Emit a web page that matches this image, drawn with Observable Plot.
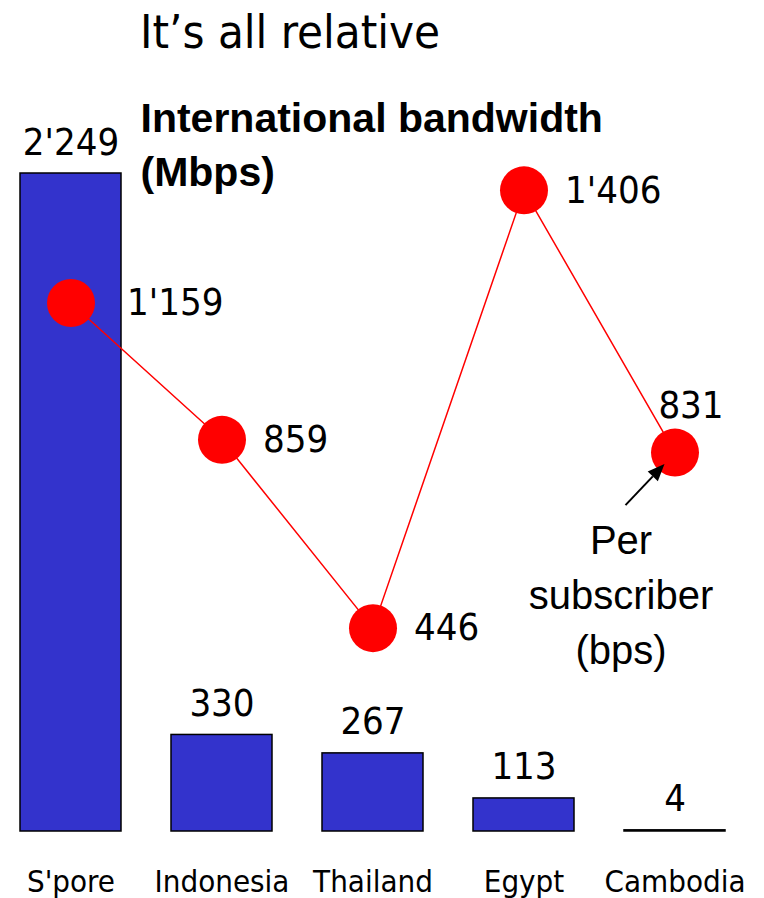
<!DOCTYPE html>
<html><head><meta charset="utf-8">
<script src="https://cdn.jsdelivr.net/npm/d3@7"></script>
<script src="https://cdn.jsdelivr.net/npm/@observablehq/plot@0.6"></script>
<style>
body{margin:0;background:#fff;}
#title{height:62px;line-height:64px;font-family:"DejaVu Sans Condensed","DejaVu Sans";font-stretch:condensed;font-size:47px;padding-left:140px;color:#000;white-space:nowrap;}
#chart svg{display:block;}
</style></head><body>
<div id="title">It’s all relative</div>
<div id="chart"></div>
<script>
const countries = ["S'pore", "Indonesia", "Thailand", "Egypt", "Cambodia"];
const bandwidth = [2249, 330, 267, 113, 4];          // International bandwidth (Mbps)
const perSubscriber = [1159, 859, 446, 1406, 831];   // Per subscriber (bps)
const bandwidthTitle = "International bandwidth\n(Mbps)";
const perSubTitle = "Per\nsubscriber\n(bps)";

const fmt = d3.formatLocale({thousands: "'", grouping: [3], decimal: ".", currency: ["", ""]}).format(",");
// secondary axis for the per-subscriber series, mapped into the bar axis units
const y2 = d3.scaleLinear().domain([0, 1443]).range([0, 2249]);

const data = countries.map((c, i) => ({country: c, bw: bandwidth[i], ps: perSubscriber[i], ps2: y2(perSubscriber[i])}));

const numFont = "DejaVu Sans Condensed, DejaVu Sans";
const plot = Plot.plot({
  width: 764, height: 836,
  marginLeft: 18, marginRight: 37, marginTop: 111, marginBottom: 67,
  style: {fontFamily: numFont, background: "white", color: "black", overflow: "visible"},
  x: {domain: countries, paddingInner: 0.33, paddingOuter: 0, label: null},
  y: {domain: [0, 2249], axis: null},
  marks: [
    Plot.axisX({tickSize: 0, tickPadding: 38, fontSize: 31, fontFamily: numFont, label: null}),
    Plot.barY(data, {x: "country", y: "bw", fill: "#3333cc", stroke: "black", strokeWidth: 1.5}),
    Plot.text(data, {x: "country", y: "bw", text: d => fmt(d.bw), dy: -19, lineAnchor: "bottom", fontSize: 38, fill: "black"}),
    Plot.line(data, {x: "country", y: "ps2", stroke: "red", strokeWidth: 1.5}),
    Plot.dot(data, {x: "country", y: "ps2", r: 24, fill: "red"}),
    Plot.text(data, {filter: d => d.country === "S'pore", x: "country", y: "ps2", text: d => fmt(d.ps), textAnchor: "start", lineAnchor: "middle", dx: 56, fontSize: 38, fill: "black"}),
    Plot.text(data, {filter: d => d.country !== "S'pore" && d.country !== "Cambodia", x: "country", y: "ps2", text: d => fmt(d.ps), textAnchor: "start", lineAnchor: "middle", dx: 41, fontSize: 38, fill: "black"}),
    Plot.text(data, {filter: d => d.country === "Cambodia", x: "country", y: "ps2", text: d => fmt(d.ps), textAnchor: "middle", lineAnchor: "middle", dx: 16, dy: -47, fontSize: 38, fill: "black"}),
    Plot.text([bandwidthTitle], {frameAnchor: "top-left", text: d => d, dx: 122, dy: -81, lineAnchor: "top", textAnchor: "start", fontSize: 41, fontWeight: "bold", fontFamily: "Liberation Sans", lineHeight: 1.34, fill: "black"}),
    Plot.text(data, {filter: d => d.country === "Cambodia", x: "country", y: "ps2", text: () => perSubTitle, textAnchor: "middle", lineAnchor: "top", dx: -54, dy: 62, fontSize: 40, fontFamily: "Liberation Sans", lineHeight: 1.375, fill: "black"})
  ]
});

// arrow pointing at the Cambodia per-subscriber dot
(function () {
  const sx = plot.scale("x"), sy = plot.scale("y");
  const d = data.find(d => d.country === "Cambodia");
  const cx = sx.apply(d.country) + sx.bandwidth / 2;
  const cy = sy.apply(d.ps2);
  const tail = [cx - 49, cy + 53], tip = [cx - 10, cy + 12];
  const vx = tip[0] - tail[0], vy = tip[1] - tail[1], L = Math.hypot(vx, vy);
  const ux = vx / L, uy = vy / L, px = -uy, py = ux;
  const hl = 17, hw = 7;
  const bx = tip[0] - hl * ux, by = tip[1] - hl * uy;
  const g = d3.select(plot).append("g");
  g.append("line").attr("x1", tail[0]).attr("y1", tail[1]).attr("x2", bx).attr("y2", by)
    .attr("stroke", "black").attr("stroke-width", 2);
  g.append("polygon").attr("points", [[tip[0], tip[1]], [bx + hw * px, by + hw * py], [bx - hw * px, by - hw * py]].map(p => p.join(",")).join(" "))
    .attr("fill", "black");
})();

document.getElementById("chart").appendChild(plot);
</script></body></html>
